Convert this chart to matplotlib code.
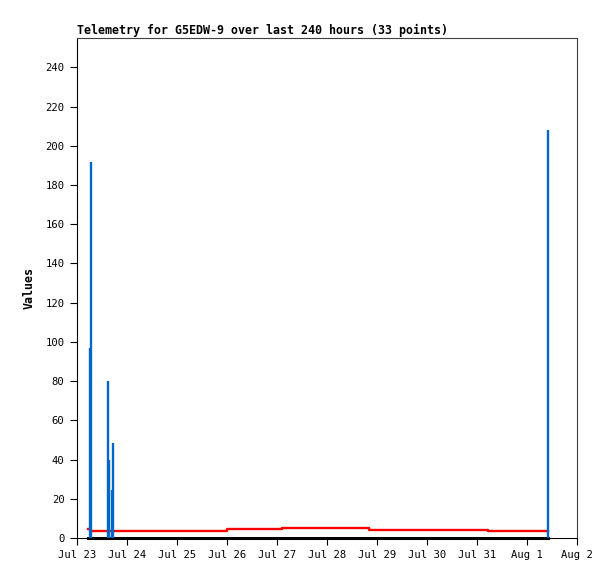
import matplotlib
matplotlib.use("Agg")
import matplotlib.pyplot as plt
import matplotlib.dates as mdates
from datetime import datetime

# ---- data ----
times = ["2024-07-23 05:20", "2024-07-23 06:09", "2024-07-23 06:55",
         "2024-07-23 14:55", "2024-07-23 15:35", "2024-07-23 16:35",
         "2024-07-23 17:20", "2024-07-26 00:00", "2024-07-27 02:10",
         "2024-07-28 20:00", "2024-07-31 05:30", "2024-08-01 10:00"]
blue_values = [0, 97, 192, 80, 40, 24.5, 48.5, 0, 0, 0, 0, 208]
red_values = [4.7, 3.7, 3.7, 3.7, 3.7, 3.7, 3.7, 4.4, 4.9, 4.2, 3.7, 3.7]
black_values = [0] * len(times)
x_start = "2024-07-23 00:00"
x_end = "2024-08-02 00:00"
y_ticks = [0, 20, 40, 60, 80, 100, 120, 140, 160, 180, 200, 220, 240]
title = "Telemetry for G5EDW-9 over last 240 hours (33 points)"
ylabel = "Values"

fmt = "%Y-%m-%d %H:%M"
t = [datetime.strptime(s, fmt) for s in times]

plt.rcParams['font.family'] = ['DejaVu Sans Mono']

fig = plt.figure(figsize=(6.15, 5.79), dpi=100)
ax = fig.add_axes([77 / 615, 41 / 579, 500 / 615, 500 / 579])

ax.plot(t, black_values, color='black', lw=2.2, zorder=1, clip_on=False)
ax.step(t, red_values, where='post', color='#ff0000', lw=1.7, zorder=2)
ax.vlines(t, 0, blue_values, color='#0066cc', lw=1.7, zorder=3)

ax.set_xlim(datetime.strptime(x_start, fmt), datetime.strptime(x_end, fmt))
ax.set_ylim(0, 255)
ax.set_yticks(y_ticks)

ax.xaxis.set_major_locator(mdates.DayLocator())
ax.xaxis.set_major_formatter(plt.FuncFormatter(
    lambda v, p: (lambda d: f"{d:%b} {d.day}")(mdates.num2date(v))))

ax.tick_params(direction='out', length=5, width=0.8, labelsize=7.6,
               colors='black', pad=4)
for s in ('left', 'bottom'):
    ax.spines[s].set_color('black')
    ax.spines[s].set_linewidth(0.8)
for s in ('top', 'right'):
    ax.spines[s].set_color('#404040')
    ax.spines[s].set_linewidth(0.8)

ax.set_title(title, loc='left', fontsize=8.4, fontweight='bold', pad=3)
ax.set_ylabel(ylabel, fontsize=8.4, fontweight='bold', labelpad=7)

fig.savefig("out.png", dpi=100)
